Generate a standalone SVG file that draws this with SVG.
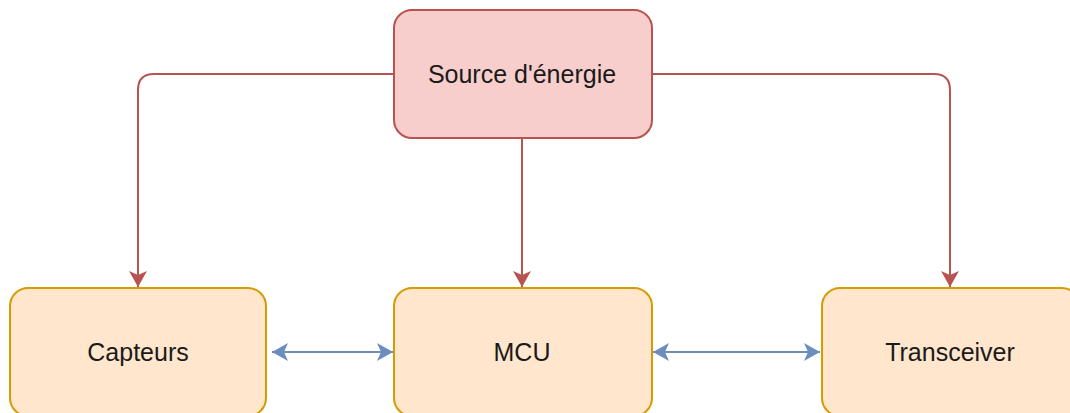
<svg xmlns="http://www.w3.org/2000/svg" width="1070" height="413" viewBox="0 0 1070 413">
<defs>
<style>
.red{fill:#f8cecc;stroke:#b85450;stroke-width:2}
.org{fill:#ffe6cc;stroke:#d79b00;stroke-width:2}
.lbl{font-family:"Liberation Sans",Arial,sans-serif;font-size:25px;fill:#1a1a1a;text-anchor:middle}
.pw{fill:none;stroke:#b85450;stroke-width:2}
.bl{fill:none;stroke:#6c8ebf;stroke-width:2}
</style>
<marker id="ar" viewBox="0 0 16 18" refX="16" refY="9" markerWidth="16" markerHeight="18" markerUnits="userSpaceOnUse" orient="auto-start-reverse">
<path d="M0,0 L16,9 L0,18 L4,9 Z" fill="#b85450"/>
</marker>
<marker id="ab" viewBox="0 0 16 18" refX="16" refY="9" markerWidth="16" markerHeight="18" markerUnits="userSpaceOnUse" orient="auto-start-reverse">
<path d="M0,0 L16,9 L0,18 L4,9 Z" fill="#6c8ebf"/>
</marker>
</defs>
<rect width="1070" height="413" fill="#ffffff"/>
<g id="connectors">
<path class="pw" d="M394,74 H154 Q138,74 138,90 V287" marker-end="url(#ar)"/>
<path class="pw" d="M522,138 V287" marker-end="url(#ar)"/>
<path class="pw" d="M652,74 H934 Q950,74 950,90 V287" marker-end="url(#ar)"/>
<path class="bl" d="M272,352 H393" marker-start="url(#ab)" marker-end="url(#ab)"/>
<path class="bl" d="M653,352 H820" marker-start="url(#ab)" marker-end="url(#ab)"/>
</g>
<g id="source">
<rect class="red" x="394" y="10" width="258" height="128" rx="18"/>
<text class="lbl" x="522" y="83">Source d'énergie</text>
</g>
<g id="capteurs">
<rect class="org" x="10" y="288" width="256" height="128" rx="18"/>
<text class="lbl" x="138" y="361">Capteurs</text>
</g>
<g id="mcu">
<rect class="org" x="394" y="288" width="258" height="128" rx="18"/>
<text class="lbl" x="522" y="361">MCU</text>
</g>
<g id="transceiver">
<rect class="org" x="822" y="288" width="258" height="128" rx="18"/>
<text class="lbl" x="950" y="361">Transceiver</text>
</g>
</svg>
